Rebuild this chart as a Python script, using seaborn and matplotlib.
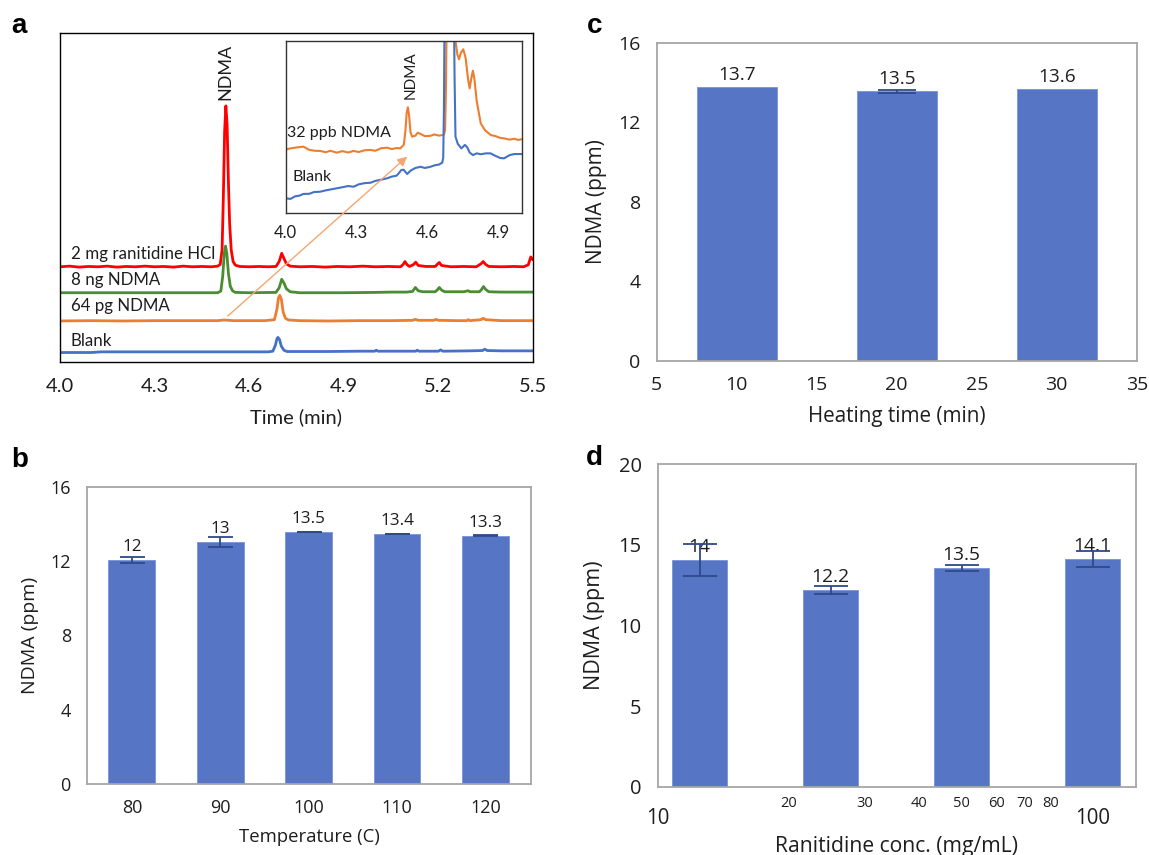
import matplotlib
matplotlib.use("Agg")
import matplotlib.pyplot as plt
import seaborn as sns
import numpy as np

# ------------------------------------------------------------------ data
# Panel a: chromatograms (time in min, signal in arbitrary offset units)
red_t = [4.00, 4.03, 4.06, 4.09, 4.12, 4.15, 4.18, 4.21, 4.24, 4.27, 4.30, 4.33, 4.36, 4.39, 4.42,
         4.45, 4.48, 4.50, 4.508, 4.514, 4.518, 4.522, 4.526, 4.530, 4.534, 4.538, 4.543, 4.549,
         4.556, 4.57, 4.60, 4.63, 4.66, 4.685, 4.695, 4.703, 4.710, 4.718, 4.73, 4.76, 4.80, 4.84,
         4.88, 4.92, 4.96, 5.00, 5.04, 5.08, 5.088, 5.094, 5.100, 5.108, 5.12, 5.128, 5.136, 5.16,
         5.19, 5.197, 5.203, 5.210, 5.24, 5.28, 5.32, 5.335, 5.342, 5.350, 5.36, 5.40, 5.44, 5.47,
         5.485, 5.493, 5.50]
red_y = [28.9, 29.1, 28.8, 29.0, 28.9, 29.1, 28.8, 29.0, 28.9, 29.1, 28.9, 29.0, 28.8, 29.1, 28.9,
         29.0, 28.9, 29.1, 29.6, 34.0, 50.0, 70.0, 77.9, 72.0, 55.0, 42.0, 34.0, 30.5,
         29.4, 29.0, 28.9, 29.0, 28.9, 29.0, 30.5, 33.0, 31.5, 29.8, 29.1, 28.9, 29.0, 28.8,
         29.0, 28.9, 29.1, 28.9, 29.0, 28.9, 29.6, 30.5, 29.6, 29.0, 29.5, 30.3, 29.3, 29.0,
         29.0, 29.7, 30.2, 29.3, 28.9, 29.0, 28.9, 29.8, 30.5, 29.6, 29.0, 28.9, 29.0, 28.9,
         29.5, 31.9, 31.0]

green_t = [4.00, 4.10, 4.20, 4.30, 4.40, 4.50, 4.510, 4.516, 4.521, 4.525, 4.529, 4.534, 4.540,
           4.547, 4.556, 4.60, 4.685, 4.695, 4.703, 4.710, 4.718, 4.73, 4.76, 4.90, 5.00, 5.05,
           5.10, 5.118, 5.127, 5.136, 5.15, 5.19, 5.196, 5.203, 5.210, 5.22, 5.28, 5.295, 5.30,
           5.33, 5.337, 5.343, 5.350, 5.36, 5.40, 5.50]
green_y = [21.0, 21.0, 21.0, 21.0, 21.0, 21.0, 21.5, 26.0, 33.0, 35.2, 33.0, 27.0, 23.0,
           21.6, 21.1, 21.0, 21.1, 22.5, 25.1, 24.0, 22.2, 21.3, 21.0, 21.0, 21.1, 21.2,
           21.2, 21.4, 22.6, 21.6, 21.3, 21.3, 21.8, 22.6, 21.8, 21.3, 21.3, 21.6, 21.3,
           21.3, 22.0, 22.9, 22.0, 21.3, 21.2, 21.2]

orange_t = [4.00, 4.10, 4.20, 4.30, 4.40, 4.50, 4.52, 4.55, 4.60, 4.65, 4.680, 4.688, 4.693,
            4.697, 4.702, 4.708, 4.715, 4.725, 4.76, 4.85, 4.95, 5.05, 5.118, 5.127, 5.136,
            5.185, 5.193, 5.200, 5.26, 5.29, 5.295, 5.30, 5.335, 5.342, 5.350, 5.40, 5.50]
orange_y = [12.4, 12.5, 12.4, 12.5, 12.5, 12.5, 12.7, 12.5, 12.5, 12.5, 12.8, 16.0, 19.5,
            20.2, 19.0, 15.0, 13.2, 12.7, 12.5, 12.4, 12.5, 12.5, 12.6, 12.9, 12.6,
            12.6, 12.9, 12.6, 12.5, 12.5, 12.8, 12.5, 12.8, 13.2, 12.8, 12.5, 12.5]

blue_t = [4.00, 4.10, 4.13, 4.20, 4.30, 4.40, 4.50, 4.60, 4.66, 4.675, 4.683, 4.688, 4.691,
          4.696, 4.702, 4.710, 4.72, 4.76, 4.85, 4.95, 4.998, 5.003, 5.008, 5.10, 5.128,
          5.133, 5.138, 5.20, 5.207, 5.214, 5.30, 5.34, 5.347, 5.355, 5.40, 5.50]
blue_y = [2.8, 2.8, 3.0, 3.0, 3.0, 3.0, 3.0, 3.0, 3.0, 3.2, 5.0, 7.0, 7.4,
          6.8, 4.7, 3.5, 3.1, 3.1, 3.1, 3.2, 3.2, 3.5, 3.2, 3.2, 3.2,
          3.5, 3.2, 3.2, 3.6, 3.2, 3.3, 3.4, 3.8, 3.4, 3.3, 3.3]

# Panel a inset (32 ppb NDMA vs blank)
ins_orange_t = [4.000, 4.025, 4.050, 4.075, 4.100, 4.125, 4.146, 4.170, 4.190, 4.217, 4.240,
                4.265, 4.288, 4.310, 4.335, 4.359, 4.380, 4.405, 4.430, 4.450, 4.470, 4.486,
                4.501, 4.508, 4.513, 4.518, 4.523, 4.529, 4.536, 4.550, 4.560, 4.572, 4.590,
                4.614, 4.630, 4.650, 4.671, 4.676, 4.680, 4.684, 4.715, 4.720, 4.728, 4.735,
                4.743, 4.753, 4.763, 4.773, 4.780, 4.787, 4.794, 4.800, 4.810, 4.827, 4.845,
                4.869, 4.890, 4.910, 4.926, 4.950, 4.970, 4.985, 5.000]
ins_orange_y = [36.8, 37.5, 38.0, 38.4, 36.5, 36.0, 35.9, 35.2, 36.0, 34.9, 35.8,
                35.0, 35.9, 35.3, 36.3, 36.5, 36.0, 37.5, 37.8, 37.0, 37.6, 37.4,
                39.5, 48.0, 58.0, 61.3, 57.0, 47.0, 44.2, 44.8, 46.5, 45.8, 44.5,
                44.7, 45.5, 44.8, 45.3, 48.0, 75.0, 140.0, 140.0, 100.0, 92.0, 89.2,
                93.0, 95.0, 90.0, 78.0, 72.3, 78.0, 82.6, 78.0, 65.0, 52.0, 48.0,
                45.2, 44.5, 43.5, 43.2, 42.5, 43.0, 42.3, 42.7]
ins_blue_t = [4.000, 4.020, 4.040, 4.060, 4.075, 4.100, 4.120, 4.146, 4.170, 4.190, 4.217,
              4.240, 4.265, 4.288, 4.310, 4.335, 4.359, 4.380, 4.405, 4.430, 4.450, 4.470,
              4.480, 4.490, 4.500, 4.515, 4.530, 4.550, 4.572, 4.590, 4.614, 4.630, 4.650,
              4.664, 4.668, 4.671, 4.675, 4.712, 4.716, 4.720, 4.730, 4.745, 4.760, 4.770,
              4.780, 4.794, 4.810, 4.827, 4.850, 4.869, 4.890, 4.910, 4.926, 4.950, 4.970,
              5.000]
ins_blue_y = [8.4, 8.0, 9.5, 10.0, 10.9, 11.0, 12.0, 12.2, 13.0, 13.5, 14.2,
              14.8, 15.5, 15.1, 16.5, 17.2, 17.4, 18.5, 19.2, 20.0, 21.0, 21.5,
              23.0, 24.8, 25.0, 22.5, 24.5, 26.0, 26.7, 26.0, 26.7, 27.5, 28.0,
              29.1, 32.0, 60.0, 140.0, 140.0, 80.0, 44.2, 40.0, 37.4, 39.4, 38.0,
              35.0, 33.5, 34.5, 34.0, 34.5, 34.5, 33.0, 31.8, 31.6, 33.5, 34.1,
              34.1]

trace_labels = ["2 mg ranitidine HCl", "8 ng NDMA", "64 pg NDMA", "Blank"]
inset_labels = ["32 ppb NDMA", "Blank"]
a_ticks = [4.0, 4.3, 4.6, 4.9, 5.2, 5.5]
inset_ticks = [4.0, 4.3, 4.6, 4.9]

# Panel b: temperature study
temp = [80, 90, 100, 110, 120]
temp_ndma = [12.05, 13.04, 13.56, 13.44, 13.36]
temp_err = [0.14, 0.27, 0.02, 0.01, 0.02]
temp_lbl = ["12", "13", "13.5", "13.4", "13.3"]

# Panel c: heating-time study
heat_time = [10, 20, 30]
time_ndma = [13.75, 13.55, 13.65]
time_err = [0.0, 0.06, 0.0]
time_lbl = ["13.7", "13.5", "13.6"]

# Panel d: ranitidine concentration study
conc = [12.5, 25, 50, 100]
conc_ndma = [14.05, 12.2, 13.58, 14.15]
conc_err = [1.0, 0.23, 0.18, 0.5]
conc_lbl = ["14", "12.2", "13.5", "14.1"]
conc_major = [10, 100]
conc_minor = [20, 30, 40, 50, 60, 70, 80, 90]
conc_minor_lbl = ["20", "30", "40", "50", "60", "70", "80", ""]

# ------------------------------------------------------------------ style
sns.set_style("white")
plt.rcParams["font.family"] = ["Open Sans", "DejaVu Sans"]
plt.rcParams["axes.unicode_minus"] = False

RED, GREEN, ORANGE, BLUE = "#FF0000", "#4A8C32", "#ED7D31", "#4472C4"
BAR, BAR_EDGE, ERR = "#5675C4", "#8098D8", "#2F4A8A"
SPINE = "#A6A6A6"
TXT = "#1E1E1E"
LATO = ["Lato", "DejaVu Sans"]

W, H = 1149, 855
fig = plt.figure(figsize=(W / 100, H / 100), dpi=100)


def rect(l, t, r, b):
    return [l / W, 1 - b / H, (r - l) / W, (b - t) / H]


# ------------------------------------------------------------------ panel a
ax_a = fig.add_axes(rect(60, 33.3, 533, 361.7))
for t, y, c in [(red_t, red_y, RED), (green_t, green_y, GREEN),
                (orange_t, orange_y, ORANGE), (blue_t, blue_y, BLUE)]:
    sns.lineplot(x=t, y=y, ax=ax_a, color=c, lw=2.0, sort=False, estimator=None)
ax_a.set_xlim(4.0, 5.5)
ax_a.set_ylim(0, 100)
ax_a.set_yticks([])
ax_a.set_xticks(a_ticks, labels=[f"{v:.1f}" for v in a_ticks])
ax_a.tick_params(axis="x", direction="out", length=5, width=1, color="black",
                 pad=7, labelsize=14.5, labelcolor=TXT)
for lab in ax_a.get_xticklabels():
    lab.set_family(LATO)
for s in ax_a.spines.values():
    s.set_color("black")
    s.set_linewidth(1.0)
ax_a.set_xlabel("Time (min)", family=LATO, fontsize=14.5, color=TXT, va="center")
ax_a.xaxis.set_label_coords(0.5, -0.168)
ax_a.set_ylabel("")

label_y = [32.8, 25.0, 16.9, 6.3]
for txt, yy in zip(trace_labels, label_y):
    ax_a.text(4.034, yy, txt, family=LATO, fontsize=12.2, color=TXT, ha="left", va="center")
ax_a.text(4.526, 88.3, "NDMA", family=LATO, fontsize=13, color=TXT, rotation=90,
          ha="center", va="center")

# inset
ax_in = fig.add_axes(rect(285.7, 40.7, 521.5, 212.7))
sns.lineplot(x=ins_orange_t, y=ins_orange_y, ax=ax_in, color=ORANGE, lw=1.5,
             sort=False, estimator=None)
sns.lineplot(x=ins_blue_t, y=ins_blue_y, ax=ax_in, color=BLUE, lw=1.5,
             sort=False, estimator=None)
ax_in.set_xlim(4.0, 5.0)
ax_in.set_ylim(0, 100)
ax_in.set_yticks([])
ax_in.set_xticks(inset_ticks, labels=[f"{v:.1f}" for v in inset_ticks])
ax_in.tick_params(axis="x", direction="out", length=4, width=1, color="black",
                  pad=4.5, labelsize=12, labelcolor=TXT)
for lab in ax_in.get_xticklabels():
    lab.set_family(LATO)
for s in ax_in.spines.values():
    s.set_color("#333333")
    s.set_linewidth(1.0)
ax_in.set_xlabel("")
ax_in.set_ylabel("")
ax_in.text(4.007, 46.2, inset_labels[0], family=LATO, fontsize=11.5, color=TXT,
           ha="left", va="center")
ax_in.text(4.030, 20.6, inset_labels[1], family=LATO, fontsize=11.5, color=TXT,
           ha="left", va="center")
ax_in.text(4.529, 80, "NDMA", family=LATO, fontsize=11, color=TXT, rotation=90,
           ha="center", va="center")
ax_in.annotate("", xy=(4.515, 32.6), xycoords=ax_in.transData,
               xytext=(4.532, 13.9), textcoords=ax_a.transData,
               arrowprops=dict(arrowstyle="-|>", color="#F5A66E", lw=1.0,
                               mutation_scale=14, shrinkA=0, shrinkB=0),
               annotation_clip=False, zorder=10)


# ------------------------------------------------------------------ helpers for b, c, d
def style_bar_axes(ax, tick_fs):
    for s in ax.spines.values():
        s.set_color(SPINE)
        s.set_linewidth(1.3)
    ax.tick_params(axis="both", which="both", direction="out", color=SPINE, width=1.3,
                   labelcolor=TXT)
    ax.tick_params(axis="y", length=7.5, pad=4, labelsize=tick_fs)


def value_labels(ax, xs, vals, labels, fs):
    for x, v, l in zip(xs, vals, labels):
        ax.annotate(l, (x, v), xytext=(0, 9.3), textcoords="offset points",
                    ha="center", va="center", fontsize=fs, color=TXT)


def error_bars(ax, xs, vals, errs, capsize):
    keep = [i for i, e in enumerate(errs) if e > 0]
    ax.errorbar([xs[i] for i in keep], [vals[i] for i in keep],
                yerr=[errs[i] for i in keep], fmt="none", ecolor=ERR, elinewidth=1.3,
                capsize=capsize, capthick=1.3, zorder=5)


# ------------------------------------------------------------------ panel b
ax_b = fig.add_axes(rect(86.8, 486.7, 531.4, 784))
sns.barplot(x=temp, y=temp_ndma, ax=ax_b, color=BAR, width=0.53, errorbar=None,
            saturation=1, edgecolor=BAR_EDGE, linewidth=0.7)
pos_b = list(np.arange(len(temp)))
error_bars(ax_b, pos_b, temp_ndma, temp_err, 9)
value_labels(ax_b, pos_b, temp_ndma, temp_lbl, 12.3)
ax_b.set_xlim(-0.51, 4.52)
ax_b.set_ylim(0, 16)
ax_b.set_yticks([0, 4, 8, 12, 16])
ax_b.set_xticks(pos_b, labels=[str(t) for t in temp])
ax_b.set_xticks(np.arange(-0.5, len(temp)), minor=True)
style_bar_axes(ax_b, 13)
ax_b.tick_params(axis="x", which="major", length=8, pad=3, labelsize=13)
ax_b.tick_params(axis="x", which="minor", length=4)
ax_b.set_xlabel("Temperature (C)", fontsize=13.3, color=TXT, va="center")
ax_b.set_ylabel("NDMA (ppm)", fontsize=14, color=TXT, va="center")
ax_b.xaxis.set_label_coords(0.5, -0.177)
ax_b.yaxis.set_label_coords(-0.127, 0.5)

# ------------------------------------------------------------------ panel c
ax_c = fig.add_axes(rect(656.7, 42.7, 1136.7, 361))
sns.barplot(x=heat_time, y=time_ndma, ax=ax_c, color=BAR, width=0.5, errorbar=None,
            native_scale=True, saturation=1, edgecolor=BAR_EDGE, linewidth=0.7)
error_bars(ax_c, heat_time, time_ndma, time_err, 14)
value_labels(ax_c, heat_time, time_ndma, time_lbl, 13.7)
ax_c.set_xlim(5, 35)
ax_c.set_ylim(0, 16)
ax_c.set_yticks([0, 4, 8, 12, 16])
ax_c.set_xticks([5, 10, 15, 20, 25, 30, 35], labels=["5", "10", "15", "20", "25", "30", "35"])
style_bar_axes(ax_c, 14)
ax_c.tick_params(axis="x", which="major", length=8, pad=3, labelsize=14)
ax_c.set_xlabel("Heating time (min)", fontsize=14.9, color=TXT, va="center")
ax_c.set_ylabel("NDMA (ppm)", fontsize=15, color=TXT, va="center")
ax_c.xaxis.set_label_coords(0.5, -0.175)
ax_c.yaxis.set_label_coords(-0.126, 0.5)

# ------------------------------------------------------------------ panel d
ax_d = fig.add_axes(rect(657.5, 464.3, 1136.2, 786.7))
sns.barplot(x=conc, y=conc_ndma, ax=ax_d, color=BAR, width=0.425, errorbar=None,
            native_scale=True, log_scale=(True, False), saturation=1,
            edgecolor=BAR_EDGE, linewidth=0.7)
error_bars(ax_d, conc, conc_ndma, conc_err, 12)
value_labels(ax_d, conc, conc_ndma, conc_lbl, 13.9)
ax_d.set_xscale("log")
ax_d.set_xlim(10, 126)
ax_d.set_ylim(0, 20)
ax_d.set_yticks([0, 5, 10, 15, 20])
ax_d.set_xticks(conc_major, labels=[str(v) for v in conc_major])
ax_d.set_xticks(conc_minor, labels=conc_minor_lbl, minor=True)
style_bar_axes(ax_d, 14.5)
ax_d.tick_params(axis="x", which="major", length=7, pad=8, labelsize=14.8)
ax_d.tick_params(axis="x", which="minor", length=4, pad=3, labelsize=10.5)
ax_d.set_xlabel("Ranitidine conc. (mg/mL)", fontsize=15.2, color=TXT, va="center")
ax_d.set_ylabel("NDMA (ppm)", fontsize=15.5, color=TXT, va="center")
ax_d.xaxis.set_label_coords(0.5, -0.186)
ax_d.yaxis.set_label_coords(-0.131, 0.5)

# ------------------------------------------------------------------ panel letters
for txt, x, y in [("a", 11.5, 33.3), ("b", 11.7, 466.7), ("c", 586.7, 33.3), ("d", 585.4, 465)]:
    fig.text(x / W, 1 - y / H, txt, fontsize=20, fontweight="bold",
             family=["Liberation Sans", "DejaVu Sans"], ha="left", va="baseline", color="black")

fig.savefig("out.png", dpi=100, facecolor="white")
